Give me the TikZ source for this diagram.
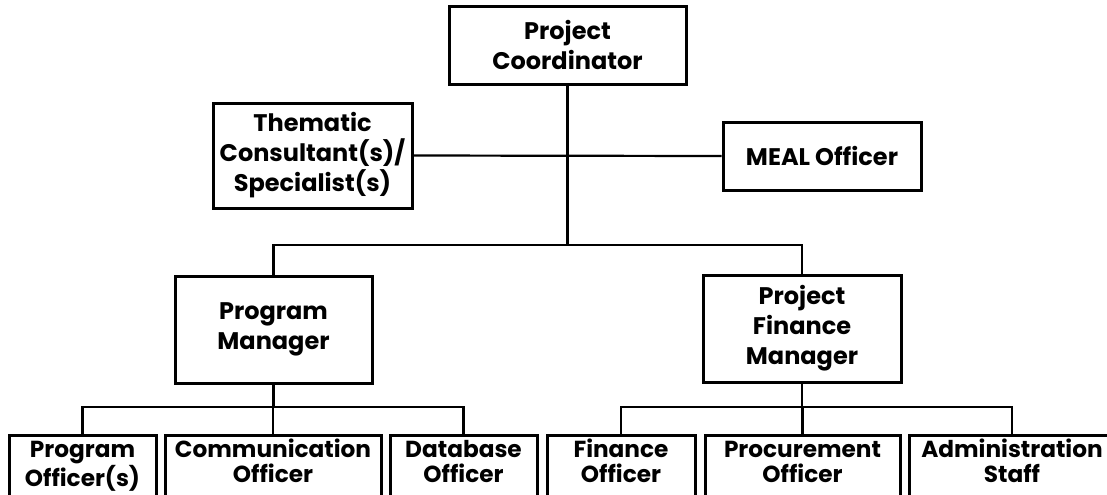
\documentclass[tikz,border=0pt]{standalone}
\usepackage{fontspec}
\setmainfont{Poppins}
\newcommand{\toprule}{\rule{0pt}{9.5pt}}
\begin{document}
\begin{tikzpicture}[x=0.5pt,y=-0.5pt,
  box/.style={draw=black,line width=1.5pt,fill=white,inner sep=0pt,align=center,
    font=\bfseries\fontsize{12}{15}\selectfont},
  lbl/.style={inner sep=0pt,align=center,font=\bfseries\fontsize{11.6}{12.5}\selectfont},
  conn/.style={draw=black,line width=1.1pt}]
\useasboundingbox (0,0) rectangle (1107,494);
\clip (0,0) rectangle (1107,494);
% junction coordinates
\coordinate (jtop) at (567.5,245);
\coordinate (jl) at (273.5,407);
\coordinate (jr) at (802,407);
% upper boxes
\node[box,minimum width=118.5pt,minimum height=39pt] (pc) at (567.5,45) {Project\\Coordinator};
\node[box,minimum width=99.5pt,minimum height=52.5pt] (them) at (312.5,155.5) {Thematic\\Consultant(s)/\\Specialist(s)};
\node[box,minimum width=99pt,minimum height=34pt] (meal) at (822,156) {MEAL Officer};
\node[box,minimum width=98.5pt,minimum height=53.5pt] (pm) at (273.5,329.5) {Program\\Manager};
\node[box,minimum width=99pt,minimum height=53.5pt] (pfm) at (802,328.5) {Project\\Finance\\Manager};
% bottom row boxes (run past the lower edge)
\node[box,minimum width=73.5pt,minimum height=60pt,anchor=north] (po) at (82.5,434) {};
\node[box,minimum width=108pt,minimum height=60pt,anchor=north] (co) at (273,434) {};
\node[box,minimum width=73.5pt,minimum height=60pt,anchor=north] (do) at (463.5,434) {};
\node[box,minimum width=74pt,minimum height=60pt,anchor=north] (fo) at (621,434) {};
\node[box,minimum width=97.5pt,minimum height=60pt,anchor=north] (pro) at (802.5,434) {};
\node[box,minimum width=103pt,minimum height=60pt,anchor=north] (as) at (1012,434) {};
\node[lbl,anchor=north] (tpo) at ([yshift=-2pt]po.north) {\toprule Program\\Officer(s)};
\node[lbl,anchor=north] (tco) at ([yshift=-2pt]co.north) {\toprule Communication\\Officer};
\node[lbl,anchor=north] (tdo) at ([yshift=-2pt]do.north) {\toprule Database\\Officer};
\node[lbl,anchor=north] (tfo) at ([yshift=-2pt]fo.north) {\toprule Finance\\Officer};
\node[lbl,anchor=north] (tpro) at ([yshift=-2pt]pro.north) {\toprule Procurement\\Officer};
\node[lbl,anchor=north] (tas) at ([yshift=-2pt]as.north) {\toprule Administration\\Staff};
% connectors
\draw[conn] (pc.south) -- (jtop);
\draw[conn] (them.east) -- (meal.west);
\draw[conn] (pm.north) |- (jtop) -| (pfm.north);
\draw[conn] (pm.south) -- (jl);
\draw[conn] (po.north) |- (jl) -| (do.north);
\draw[conn] (co.north) -- (co.north |- jl);
\draw[conn] (pfm.south) -- (jr);
\draw[conn] (fo.north) |- (jr) -| (as.north);
\draw[conn] (pro.north) -- (pro.north |- jr);
\end{tikzpicture}
\end{document}
